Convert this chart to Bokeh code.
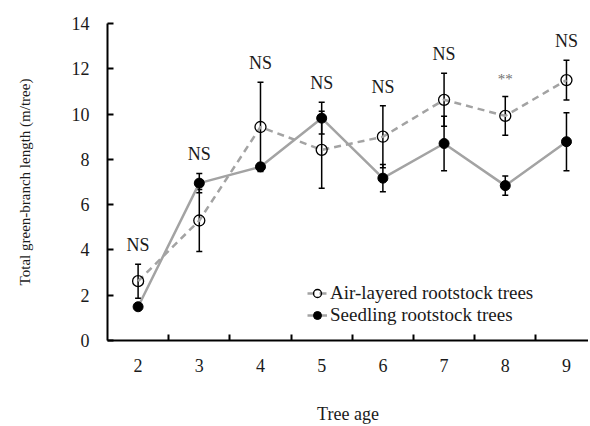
from bokeh.plotting import figure
from bokeh.models import (ColumnDataSource, Whisker, TeeHead, FixedTicker, Legend, LegendItem, Range1d)
from bokeh.core.properties import value
from bokeh.embed import file_html
from bokeh.resources import INLINE

# ---- data ----
ages = [2, 3, 4, 5, 6, 7, 8, 9]
air_mean = [2.62, 5.30, 9.43, 8.42, 9.00, 10.63, 9.92, 11.50]
air_err = [0.75, 1.37, 1.97, 1.70, 1.37, 1.17, 0.86, 0.88]
seed_mean = [1.49, 6.95, 7.67, 9.82, 7.17, 8.70, 6.84, 8.78]
seed_err = [0.05, 0.43, 0.15, 0.70, 0.60, 1.20, 0.42, 1.28]
sig_labels = ["NS", "NS", "NS", "NS", "NS", "NS", "**", "NS"]
y_ticks = [0, 2, 4, 6, 8, 10, 12, 14]
y_title = "Total green-branch length (m/tree)"
x_title = "Tree age"

FONT = "Liberation Serif"
GRAY = "#a3a3a3"
TXT = "#1a1a1a"

air = ColumnDataSource(dict(x=ages, y=air_mean,
                            lo=[m - e for m, e in zip(air_mean, air_err)],
                            hi=[m + e for m, e in zip(air_mean, air_err)]))
seed = ColumnDataSource(dict(x=ages, y=seed_mean,
                             lo=[m - e for m, e in zip(seed_mean, seed_err)],
                             hi=[m + e for m, e in zip(seed_mean, seed_err)]))
tops = [max(a + ea, s + es) for a, ea, s, es in zip(air_mean, air_err, seed_mean, seed_err)]
lab = ColumnDataSource(dict(x=ages, y=tops, t=sig_labels,
                            c=[TXT if s == "NS" else "#707070" for s in sig_labels],
                            fs=["18px" if s == "NS" else "15px" for s in sig_labels],
                            off=[-19 if s == "NS" else -17 for s in sig_labels]))

p = figure(width=588, height=426, output_backend="svg", toolbar_location=None,
           x_range=Range1d(1.5, 9.36), y_range=Range1d(0, 14),
           min_border_left=107, min_border_right=0, min_border_top=23, min_border_bottom=83)
p.outline_line_color = None
p.grid.grid_line_color = None
p.background_fill_color = "white"

# lines
l_air = p.line("x", "y", source=air, line_color=GRAY, line_width=2.5, line_dash="7 5")
l_seed = p.line("x", "y", source=seed, line_color=GRAY, line_width=2.5)

# error bars
for src in (air, seed):
    w = Whisker(source=src, base="x", lower="lo", upper="hi", line_color="black", line_width=1.5,
                upper_head=TeeHead(size=6, line_color="black", line_width=1.5),
                lower_head=TeeHead(size=6, line_color="black", line_width=1.5))
    p.add_layout(w)

# markers
m_air = p.scatter("x", "y", source=air, size=11, marker="circle", fill_color=None,
                  line_color="black", line_width=1.3)
m_seed = p.scatter("x", "y", source=seed, size=10, marker="circle", fill_color="black",
                   line_color="black")

# significance labels
p.text("x", "y", text="t", source=lab, text_font=value(FONT), text_font_size="fs",
       text_color="c", text_align="center", text_baseline="middle", y_offset="off")

# legend
leg = Legend(items=[LegendItem(label="Air-layered rootstock trees", renderers=[l_air, m_air]),
                    LegendItem(label="Seedling rootstock trees", renderers=[l_seed, m_seed])],
             location=(200, 14), orientation="vertical", background_fill_alpha=0,
             border_line_color=None, padding=0, margin=0, spacing=0,
             glyph_width=20, glyph_height=22, label_standoff=3, label_height=22,
             label_text_font=FONT, label_text_font_size="19px", label_text_color=TXT)
p.add_layout(leg)

# axes
xa = p.xaxis[0]
xa.ticker = FixedTicker(ticks=ages, minor_ticks=[a + 0.5 for a in ages])
xa.major_tick_line_color = None
xa.minor_tick_in = 6
xa.minor_tick_out = 0
xa.minor_tick_line_color = "black"
xa.minor_tick_line_width = 2
xa.axis_line_width = 2
xa.axis_line_color = "black"
xa.major_label_text_font = FONT
xa.major_label_text_font_size = "18px"
xa.major_label_text_color = TXT
xa.major_label_standoff = 12
xa.axis_label = x_title
xa.axis_label_text_font = FONT
xa.axis_label_text_font_size = "18px"
xa.axis_label_text_font_style = "normal"
xa.axis_label_text_color = TXT
xa.axis_label_standoff = 29

ya = p.yaxis[0]
ya.ticker = FixedTicker(ticks=y_ticks, minor_ticks=[])
ya.major_tick_in = 6
ya.major_tick_out = 0
ya.major_tick_line_width = 2
ya.major_tick_line_color = "black"
ya.axis_line_width = 2
ya.axis_line_color = "black"
ya.major_label_text_font = FONT
ya.major_label_text_font_size = "18px"
ya.major_label_text_color = TXT
ya.major_label_standoff = 18
ya.axis_label = y_title
ya.axis_label_text_font = FONT
ya.axis_label_text_font_size = "15px"
ya.axis_label_text_font_style = "normal"
ya.axis_label_text_color = TXT
ya.axis_label_standoff = 36

open("out.html", "w").write(file_html(p, INLINE))
